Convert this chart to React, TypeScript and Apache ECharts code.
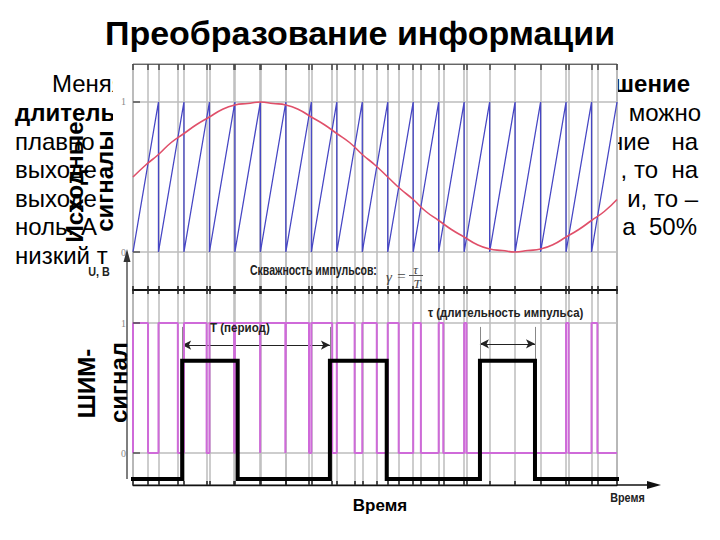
import React, { useEffect, useRef } from "react";
import * as echarts from "echarts";

// ---------- data ----------
const titleText = "Преобразование информации";
const toothStarts = [0, 1, 2, 3, 4, 5, 6, 7, 8, 9, 10, 11, 12, 13, 14, 15, 16, 17, 18];
const toothEnd = 19;
const sawLow = 0;
const sawHigh = 1;
// high-part duration of the PWM output in each sawtooth period
const pwmHighWidths = [0.59, 0.76, 0.89, 0.97, 0.99, 0.98, 0.91, 0.82, 0.7, 0.57, 0.43, 0.3, 0.18, 0.09, 0, 0, 0, 0.1, 0.23];
const sineTimes = [0, 0.5, 1, 1.5, 2, 2.5, 3, 3.5, 4, 4.5, 5, 5.5, 6, 6.5, 7, 7.5, 8, 8.5, 9, 9.5, 10, 10.5, 11, 11.5, 12, 12.5, 13, 13.5, 14, 14.5, 15, 15.5, 16, 16.5, 17, 17.5, 18, 18.5, 19];
const sineValues = [0.5, 0.58, 0.65, 0.73, 0.79, 0.85, 0.9, 0.95, 0.98, 0.99, 1.0, 0.99, 0.98, 0.95, 0.9, 0.85, 0.79, 0.73, 0.65, 0.58, 0.5, 0.42, 0.35, 0.27, 0.21, 0.15, 0.1, 0.05, 0.02, 0.01, 0.0, 0.01, 0.02, 0.05, 0.1, 0.15, 0.21, 0.27, 0.35];
const pulseStarts = [1.93, 7.73, 13.62];
const pulseEnds = [4.11, 9.96, 15.78];
const pulseHigh = 0.71;
const pulseLow = -0.2;
const traceStart = -0.24;
const traceEnd = 19.39;
const levelTicks = [0, 1];
const levelLabels = ["0", "1"];
const periodArrowLevel = 0.83;
const widthArrowLevel = 0.84;
const extTop = 0.97;
const extBottom = 0.71;

// ---------- derived ----------
const sawPoints: number[][] = toothStarts.flatMap((k) => [[k, sawLow], [k + 1, sawHigh]]);
const sinePoints = sineTimes.map((t, i) => [t, sineValues[i]]);
const pwmPoints: number[][] = [];
toothStarts.forEach((k, i) => {
  const w = pwmHighWidths[i];
  if (w > 0) pwmPoints.push([k, 0], [k, 1], [k + w, 1], [k + w, 0]);
  else pwmPoints.push([k, 0]);
});
pwmPoints.push([toothEnd, 0]);
const crossings: number[] = [];
toothStarts.forEach((k, i) => {
  if (pwmHighWidths[i] > 0) crossings.push(k + pwmHighWidths[i]);
});
const verticals = [...toothStarts, toothEnd, ...crossings];
const pulsePoints: number[][] = [[traceStart, pulseLow]];
pulseStarts.forEach((s, i) => {
  pulsePoints.push([s, pulseLow], [s, pulseHigh], [pulseEnds[i], pulseHigh], [pulseEnds[i], pulseLow]);
});
pulsePoints.push([traceEnd, pulseLow]);

// ---------- styles ----------
const FF = '"Liberation Sans", Arial, Helvetica, sans-serif';
const SERIF = '"Liberation Serif", "DejaVu Serif", serif';

function txt(text: string, x: number, y: number, o: any = {}) {
  const align = o.align || "left";
  return {
    type: "text",
    x,
    y,
    z: o.z ?? 10,
    rotation: o.rotation || 0,
    scaleX: o.scaleX || 1,
    style: {
      text,
      fill: o.color || "#000",
      fontSize: o.size || 24,
      fontWeight: o.bold ? "bold" : "normal",
      fontStyle: o.italic ? "italic" : "normal",
      fontFamily: o.family || FF,
      align,
      textAlign: align,
      verticalAlign: "middle",
      textVerticalAlign: "middle",
    },
  };
}

const lineY = [83.6, 112.6, 141.6, 169.6, 198.6, 226.6, 255.6];

const grayLine = { color: "#bcbcbc", width: 1.5, type: "solid" };

function xAx(gridIndex: number, position: string, line: any, tick: any) {
  return {
    type: "value", gridIndex, position, min: 0, max: toothEnd, z: 8,
    axisLine: line ? { show: true, onZero: false, lineStyle: line } : { show: false, onZero: false },
    axisTick: { show: true, customValues: verticals, ...tick },
    axisLabel: { show: false }, splitLine: { show: false },
  };
}

function yAx(gridIndex: number, min: number, max: number) {
  return {
    type: "value", gridIndex, min, max, z: 8,
    axisLine: { show: false, onZero: false },
    axisTick: { show: true, inside: true, length: 7, customValues: levelTicks, lineStyle: { color: "#555", width: 1.5 } },
    axisLabel: { show: true, customValues: levelTicks, formatter: (v: number) => levelLabels[levelTicks.indexOf(v)], color: "#888", fontFamily: SERIF, fontSize: 10, margin: 7 },
    splitLine: { show: false },
  };
}

const option: any = {
  animation: false,
  backgroundColor: "#fff",
  grid: [
    { left: 133, top: 64, width: 484, height: 226, show: true, borderColor: "#777", borderWidth: 1, z: 2 },
    { left: 133, top: 290, width: 484, height: 195, show: true, borderColor: "#555", borderWidth: 1, z: 2 },
  ],
  xAxis: [
    xAx(0, "top", { color: "#666", width: 1 }, { inside: true, length: 6, lineStyle: { color: "#444", width: 1.5 } }),
    xAx(0, "bottom", null, { inside: false, length: 4, lineStyle: { color: "#222", width: 1.5 } }),
    xAx(1, "top", { color: "#111", width: 2 }, { inside: false, length: 4, lineStyle: { color: "#222", width: 1.5 } }),
    xAx(1, "bottom", { color: "#111", width: 1.3 }, { inside: true, length: 4, lineStyle: { color: "#222", width: 1.5 } }),
  ],
  yAxis: [yAx(0, -0.2533, 1.2533), yAx(1, -0.246, 1.254)],
  series: [
    {
      name: "grid-top", type: "line", xAxisIndex: 1, yAxisIndex: 0, z: 3,
      data: [[0, -5]], symbol: "none", lineStyle: { opacity: 0 },
      markLine: {
        silent: true, symbol: ["none", "none"], label: { show: false }, lineStyle: grayLine,
        data: [...verticals.map((v) => ({ xAxis: v })), ...levelTicks.map((v) => ({ yAxis: v }))],
      },
    },
    {
      name: "Пила", type: "line", xAxisIndex: 1, yAxisIndex: 0, z: 5,
      data: sawPoints, symbol: "none", lineStyle: { color: "#4646c4", width: 1.3 },
    },
    {
      name: "Синус", type: "line", xAxisIndex: 1, yAxisIndex: 0, z: 6,
      data: sinePoints, smooth: true, symbol: "none", lineStyle: { color: "#e0506a", width: 1.6 },
    },
    {
      name: "grid-bottom", type: "line", xAxisIndex: 3, yAxisIndex: 1, z: 3,
      data: [[0, -5]], symbol: "none", lineStyle: { opacity: 0 },
      markLine: {
        silent: true, symbol: ["none", "none"], label: { show: false }, lineStyle: grayLine,
        data: [...verticals.map((v) => ({ xAxis: v })), ...levelTicks.map((v) => ({ yAxis: v }))],
      },
    },
    {
      name: "ШИМ", type: "line", xAxisIndex: 3, yAxisIndex: 1, z: 5,
      data: pwmPoints, symbol: "none", lineStyle: { color: "#cf6ad9", width: 2 },
    },
    {
      name: "Импульсы", type: "line", xAxisIndex: 3, yAxisIndex: 1, z: 7, clip: false,
      data: pulsePoints, symbol: "none", lineStyle: { color: "#000", width: 4, join: "miter", cap: "butt" },
      markLine: {
        silent: true, label: { show: false }, symbolSize: [7, 9],
        lineStyle: { color: "#222", width: 1, type: "solid" },
        data: [
          [{ coord: [pulseStarts[0], periodArrowLevel], symbol: "arrow" }, { coord: [pulseStarts[1], periodArrowLevel], symbol: "arrow" }],
          [{ coord: [pulseStarts[2], widthArrowLevel], symbol: "arrow" }, { coord: [pulseEnds[2], widthArrowLevel], symbol: "arrow" }],
          [{ coord: [pulseStarts[0], extTop], symbol: "none", lineStyle: { color: "#888", width: 1 } }, { coord: [pulseStarts[0], extBottom], symbol: "none" }],
          [{ coord: [pulseStarts[1], extTop], symbol: "none", lineStyle: { color: "#888", width: 1 } }, { coord: [pulseStarts[1], extBottom], symbol: "none" }],
          [{ coord: [pulseStarts[2], extTop], symbol: "none", lineStyle: { color: "#888", width: 1 } }, { coord: [pulseStarts[2], extBottom], symbol: "none" }],
          [{ coord: [pulseEnds[2], extTop], symbol: "none", lineStyle: { color: "#888", width: 1 } }, { coord: [pulseEnds[2], extBottom], symbol: "none" }],
        ],
      },
    },
  ],
  graphic: {
    elements: [
      // slide title
      txt(titleText, 360, 33, { size: 34, bold: true, align: "center", z: 0 }),
      // slide paragraph (partly hidden behind the picture)
      txt("Меняя", 52, lineY[0], { z: 0 }),
      txt("длитель", 15, lineY[1], { bold: true, z: 0 }),
      txt("плавно", 15, lineY[2], { z: 0 }),
      txt("выходе", 15, lineY[3], { z: 0 }),
      txt("выходе", 15, lineY[4], { z: 0 }),
      txt("ноль. А", 15, lineY[5], { z: 0 }),
      txt("низкий т", 15, lineY[6], { z: 0 }),
      txt("отношение", 690, lineY[0], { bold: true, align: "right", z: 0 }),
      txt("можно", 701, lineY[1], { align: "right", z: 0 }),
      txt("напряжение", 650, lineY[2], { align: "right", z: 0 }),
      txt("на", 698, lineY[2], { align: "right", z: 0 }),
      txt(", то", 658, lineY[3], { align: "right", z: 0 }),
      txt("на", 698, lineY[3], { align: "right", z: 0 }),
      txt("и, то –", 698, lineY[4], { align: "right", z: 0 }),
      txt("а  50%", 697, lineY[5], { align: "right", z: 0 }),
      // white picture background covering the paragraph
      { type: "rect", z: 1, shape: { x: 113, y: 58, width: 505, height: 214 }, style: { fill: "#fff" } },
      // vertical U axis with arrow
      { type: "line", z: 9, shape: { x1: 127, y1: 258, x2: 127, y2: 479 }, style: { stroke: "#555", lineWidth: 1.5 } },
      { type: "polygon", z: 9, shape: { points: [[127, 249], [123.5, 262], [130.5, 262]] }, style: { fill: "#333" } },
      // time axis extension with arrow
      { type: "line", z: 9, shape: { x1: 617, y1: 485, x2: 652, y2: 485 }, style: { stroke: "#111", lineWidth: 1.3 } },
      { type: "polygon", z: 9, shape: { points: [[661, 485], [647, 481], [647, 489]] }, style: { fill: "#111" } },
      // picture labels
      txt("U, B", 99, 272, { size: 12, bold: true, align: "center", scaleX: 0.9, color: "#222" }),
      txt("Скважность импульсов:", 250, 270, { size: 14, bold: true, scaleX: 0.75, color: "#222" }),
      txt("γ", 389, 277, { size: 15, italic: true, family: SERIF, align: "center", color: "#444" }),
      txt("=", 401.5, 276, { size: 15, family: SERIF, align: "center", color: "#444" }),
      txt("τ", 415.5, 269, { size: 13, italic: true, family: SERIF, align: "center", color: "#444" }),
      { type: "line", z: 10, shape: { x1: 409, y1: 275.5, x2: 423, y2: 275.5 }, style: { stroke: "#555", lineWidth: 1 } },
      txt("T", 417, 283, { size: 13, italic: true, family: SERIF, align: "center", color: "#444" }),
      txt("T (период)", 210, 328, { size: 13, bold: true, scaleX: 0.89, color: "#222" }),
      txt("τ (длительность импульса)", 428, 313, { size: 13, bold: true, scaleX: 0.88, color: "#222" }),
      txt("Время", 627.5, 498, { size: 12, bold: true, align: "center", scaleX: 0.9, color: "#222" }),
      // slide labels
      txt("Исходные", 74.6, 182, { bold: true, align: "center", rotation: Math.PI / 2 }),
      txt("сигналы", 104, 181, { bold: true, align: "center", rotation: Math.PI / 2 }),
      txt("ШИМ-", 86.6, 383.5, { bold: true, align: "center", rotation: Math.PI / 2 }),
      txt("сигнал", 118, 382.5, { bold: true, align: "center", rotation: Math.PI / 2 }),
      txt("Время", 380, 505, { size: 17, bold: true, align: "center" }),
    ],
  },
};

export default function App() {
  const ref = useRef<HTMLDivElement>(null);
  useEffect(() => {
    if (!ref.current) return;
    const chart = echarts.init(ref.current, null, { renderer: "svg" });
    chart.setOption(option);
    return () => chart.dispose();
  }, []);
  return <div ref={ref} style={{ position: "absolute", left: 0, top: 0, width: 720, height: 540 }} />;
}
